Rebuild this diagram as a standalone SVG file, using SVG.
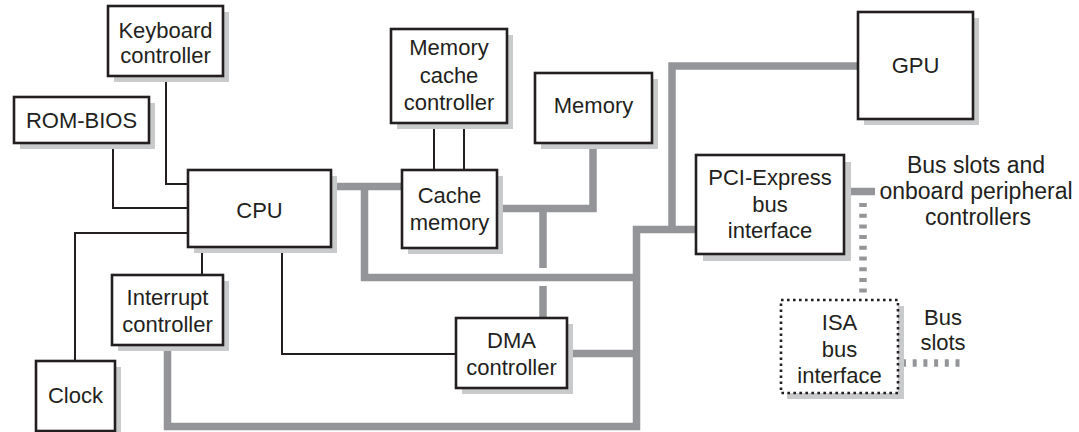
<svg xmlns="http://www.w3.org/2000/svg" width="1079" height="432" viewBox="0 0 1079 432">
<style>
.box{fill:#fff;stroke:#231f20;stroke-width:2.6}
.sh{fill:#c9cacc}
.thin{fill:none;stroke:#231f20;stroke-width:2}
.bus{fill:none;stroke:#939598;stroke-width:7.5;stroke-linejoin:miter}
.dbus{fill:none;stroke:#939598;stroke-width:7.5;stroke-dasharray:4 6.7}
.dot{fill:#fff;stroke:#231f20;stroke-width:2.6;stroke-dasharray:2.6 3.4}
text{font-family:"Liberation Sans",Arial,sans-serif;font-size:22px;fill:#231f20;text-anchor:middle}
.lbl{font-size:23px}
</style>
<rect width="1079" height="432" fill="#fff"/>
<g id="connectors">
<path class="bus" d="M331,186.5H402"/>
<path class="bus" d="M364.5,186.5V277.5H636.5"/>
<path class="bus" d="M167.5,345V426.5H636.5V229.5H696"/>
<path class="bus" d="M858,66H672V229.5"/>
<path class="bus" d="M497,208.5H593V143"/>
<path class="bus" d="M543,208.5V268M543,286V318"/>
<path class="bus" d="M567,353.5H636.5"/>
<path class="bus" d="M844,191.5H875"/>
<path class="dbus" d="M863,203V297"/>
<path class="dbus" d="M902,363H962"/>
<path class="thin" d="M166,76V184H188"/>
<path class="thin" d="M113,143V208H188"/>
<path class="thin" d="M188,233H75V361"/>
<path class="thin" d="M202,247V275"/>
<path class="thin" d="M282,247V354H456"/>
<path class="thin" d="M434,123V170M464,123V170"/>
</g>
<g id="keyboard"><rect class="sh" x="114" y="12" width="115" height="70"/><rect class="box" x="108" y="6" width="115" height="70"/><text x="165.5" y="38">Keyboard</text><text x="165.5" y="63">controller</text></g>
<g id="rombios"><rect class="sh" x="20" y="103" width="135" height="46"/><rect class="box" x="14" y="97" width="135" height="46"/><text x="81.5" y="128">ROM-BIOS</text></g>
<g id="cpu"><rect class="sh" x="194" y="176" width="143" height="77"/><rect class="box" x="188" y="170" width="143" height="77"/><text x="259.5" y="218">CPU</text></g>
<g id="interrupt"><rect class="sh" x="118" y="281" width="111" height="70"/><rect class="box" x="112" y="275" width="111" height="70"/><text x="167.5" y="305">Interrupt</text><text x="167.5" y="332">controller</text></g>
<g id="clock"><rect class="sh" x="42" y="367" width="79" height="70"/><rect class="box" x="36" y="361" width="79" height="70"/><text x="75.5" y="403">Clock</text></g>
<g id="cachectl"><rect class="sh" x="397" y="35" width="116" height="94"/><rect class="box" x="391" y="29" width="116" height="94"/><text x="449" y="55">Memory</text><text x="449" y="83">cache</text><text x="449" y="110">controller</text></g>
<g id="cachemem"><rect class="sh" x="408" y="176" width="95" height="78"/><rect class="box" x="402" y="170" width="95" height="78"/><text x="449.5" y="203">Cache</text><text x="449.5" y="230">memory</text></g>
<g id="memory"><rect class="sh" x="541" y="79" width="117" height="70"/><rect class="box" x="535" y="73" width="117" height="70"/><text x="593.5" y="113">Memory</text></g>
<g id="dma"><rect class="sh" x="462" y="324" width="111" height="70"/><rect class="box" x="456" y="318" width="111" height="70"/><text x="511.5" y="348">DMA</text><text x="511.5" y="375">controller</text></g>
<g id="gpu"><rect class="sh" x="864" y="18" width="115" height="107"/><rect class="box" x="858" y="12" width="115" height="107"/><text x="915.5" y="73">GPU</text></g>
<g id="pci"><rect class="sh" x="703" y="162" width="148" height="99"/><rect class="box" x="696" y="155" width="148" height="99"/><text x="770" y="185">PCI-Express</text><text x="770" y="212">bus</text><text x="770" y="238">interface</text></g>
<g id="isa"><rect class="sh" x="787" y="306" width="117" height="93"/><rect class="dot" x="781" y="300" width="117" height="93"/><text x="839.5" y="330">ISA</text><text x="839.5" y="357">bus</text><text x="839.5" y="383">interface</text></g>
<g id="labels"><text class="lbl" x="976" y="173">Bus slots and</text><text class="lbl" x="976" y="199">onboard peripheral</text><text class="lbl" x="978" y="225">controllers</text><text x="943" y="325">Bus</text><text x="943" y="350">slots</text></g>
</svg>
